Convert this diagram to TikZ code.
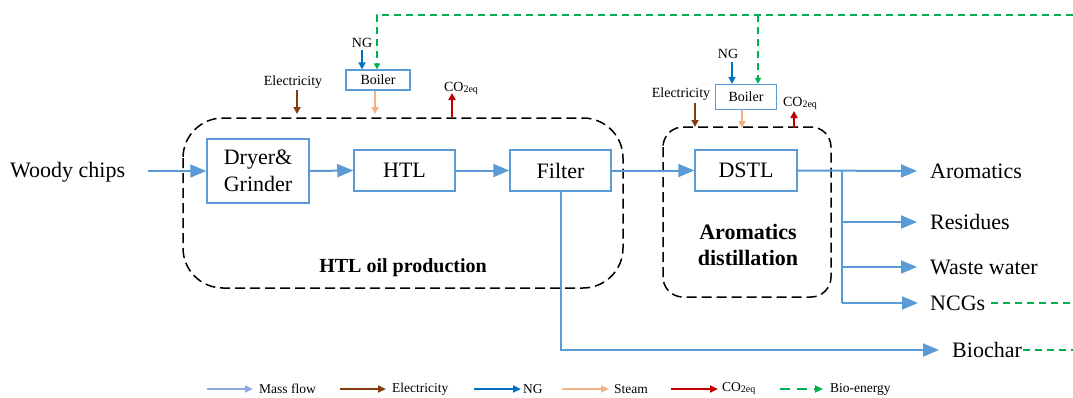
\documentclass[tikz,border=0pt]{standalone}
\usepackage{fontspec}
\setmainfont{Liberation Serif}
\usetikzlibrary{arrows.meta}
\definecolor{flowblue}{HTML}{5B9BD5}
\definecolor{legblue}{HTML}{8FAADC}
\definecolor{elec}{HTML}{843C0C}
\definecolor{ngblue}{HTML}{0070C0}
\definecolor{steam}{HTML}{F4B183}
\definecolor{co2}{HTML}{C00000}
\definecolor{bio}{HTML}{00B050}
\newcommand{\coeq}{CO{\fontsize{10}{10}\selectfont\raisebox{-1pt}{2eq}}}
\begin{document}
\begin{tikzpicture}[x=1pt,y=-1pt,
 proc/.style={draw=flowblue, line width=1.5pt, minimum width=101pt, minimum height=41pt, font=\fontsize{22}{27}\selectfont, inner sep=0pt},
 flow/.style={draw=flowblue, line width=2pt, -{Triangle[length=16pt,width=13pt]}},
 flowline/.style={draw=flowblue, line width=2pt},
 util/.style={line width=2.5pt, -{Triangle[length=7pt,width=7pt]}},
 legarrow/.style={line width=2.5pt, -{Triangle[length=8pt,width=7pt]}},
 biod/.style={draw=bio, line width=1.8pt, dash pattern=on 7pt off 5pt},
 group/.style={draw=black, line width=1.5pt, dash pattern=on 10pt off 5pt},
 big/.style={font=\fontsize{22}{24}\selectfont, inner sep=0pt},
 small/.style={font=\fontsize{14}{16}\selectfont, inner sep=0pt},
 legtext/.style={font=\fontsize{13.5}{15}\selectfont, inner sep=0pt, anchor=west},
 boilerbox/.style={draw=flowblue, line width=1.2pt, font=\fontsize{14}{16}\selectfont, inner sep=0pt},
]
\useasboundingbox (0,0) rectangle (1073,397);

% group boxes
\draw[group, rounded corners=40pt] (183,118) rectangle (623,288);
\node[font=\bfseries\fontsize{20}{22}\selectfont, inner sep=0pt] (g1label) at (403,268) {HTL oil production};
\draw[group, rounded corners=20pt] (663,127) rectangle (831,297);
\node[align=center, font=\bfseries\fontsize{22}{26}\selectfont, inner sep=0pt] (g2label) at (748,245) {Aromatics\\distillation};

% process boxes
\node[proc, minimum width=102pt, minimum height=64pt, align=center] (dryer) at (258,171) {Dryer\&\\Grinder};
\node[proc] (htl) at (404.5,170.5) {HTL};
\node[proc] (filter) at (560.5,170.5) {Filter};
\node[proc, minimum width=102pt] (dstl) at (746,170.5) {DSTL};

% input
\node[big, anchor=west] (woody) at (10,172) {Woody chips};
\coordinate (win) at (148,171);
\draw[flow] (win) -- (dryer.west);
\draw[flow] (dryer.east) -- (htl.west);
\draw[flow] (htl.east) -- (filter.west);
\draw[flow] (filter.east) -- (dstl.west);

% outputs
\node[big, anchor=west] (arom) at (930,171) {Aromatics};
\node[big, anchor=west] (resid) at (930,222) {Residues};
\node[big, anchor=west] (waste) at (930,267) {Waste water};
\node[big, anchor=west] (ncg) at (930,303) {NCGs};
\node[big, anchor=west] (biochar) at (952,350) {Biochar};
\coordinate (br) at (842,171);
\coordinate (brb) at (842,303);
\draw[flow] (dstl.east) -- ([xshift=-13pt]arom.west);
\draw[flowline] (br) -- (brb);
\draw[flow] (br |- resid.west) -- ([xshift=-13pt]resid.west);
\draw[flow] (br |- waste.west) -- ([xshift=-13pt]waste.west);
\draw[flow] (brb) -- ([xshift=-12pt]ncg.west);
\coordinate (bc) at (560.5,350);
\draw[flow] (filter.south) -- (bc) -- ([xshift=-13pt]biochar.west);
\coordinate (ncgend) at (1073,303);
\coordinate (bcend) at (1073,350);
\draw[biod] ([xshift=6pt]ncg.east) -- (ncgend);
\draw[biod] ([xshift=1pt]biochar.east) -- (bcend);

% boiler 1
\node[boilerbox, minimum width=64pt, minimum height=20pt] (boiler1) at (378,80) {Boiler};
\node[small] (ng1) at (362,43) {NG};
\coordinate (ng1a) at (362,50);
\draw[util, ngblue] (ng1a) -- (ng1a |- boiler1.north);
\node[small] (elec1) at (293,82) {Electricity};
\coordinate (e1a) at (297,90);
\coordinate (e1b) at (297,114);
\draw[util, elec] (e1a) -- (e1b);
\coordinate (s1) at (375,114);
\draw[util, steam] (s1 |- boiler1.south) -- (s1);
\node[small] (co21) at (461,88) {\coeq};
\coordinate (c1a) at (452,93);
\coordinate (c1b) at (452,117);
\draw[util, co2] (c1b) -- (c1a);

% boiler 2
\node[boilerbox, minimum width=61pt, minimum height=25pt] (boiler2) at (746,97) {Boiler};
\node[small] (ng2) at (728,54) {NG};
\coordinate (ng2a) at (732,62);
\draw[util, ngblue] (ng2a) -- (ng2a |- boiler2.north);
\node[small] (elec2) at (681,94) {Electricity};
\coordinate (e2a) at (695,103);
\coordinate (e2b) at (695,127);
\draw[util, elec] (e2a) -- (e2b);
\coordinate (s2) at (742,128);
\draw[util, steam] (s2 |- boiler2.south) -- (s2);
\node[small] (co22) at (800,103) {\coeq};
\coordinate (c2a) at (794,111);
\coordinate (c2b) at (794,128);
\draw[util, co2] (c2b) -- (c2a);

% bio-energy lines
\coordinate (topR) at (1073,15);
\coordinate (topL) at (377,15);
\coordinate (top2) at (758,15);
\draw[biod, -{Triangle[length=6pt,width=6pt]}] (topR) -- (topL) -- (topL |- boiler1.north);
\draw[biod, -{Triangle[length=6pt,width=6pt]}] (top2) -- (top2 |- boiler2.north);

% legend
\node[legtext] (lmass) at (259,389) {Mass flow};
\draw[legarrow, legblue] ([xshift=-52pt]lmass.west) -- ([xshift=-6pt]lmass.west);
\node[legtext] (lelec) at (392,389) {Electricity};
\draw[legarrow, elec] ([xshift=-52pt]lelec.west) -- ([xshift=-6pt]lelec.west);
\node[legtext] (lng) at (523,389) {NG};
\draw[legarrow, ngblue] ([xshift=-49pt]lng.west) -- ([xshift=-2pt]lng.west);
\node[legtext] (lsteam) at (614,389) {Steam};
\draw[legarrow, steam] ([xshift=-52pt]lsteam.west) -- ([xshift=-5pt]lsteam.west);
\node[legtext] (lco2) at (722,389) {\coeq};
\draw[legarrow, co2] ([xshift=-51pt]lco2.west) -- ([xshift=-4pt]lco2.west);
\node[legtext] (lbio) at (830,389) {Bio-energy};
\draw[legarrow, bio, dash pattern=on 10pt off 7pt] ([xshift=-50pt]lbio.west) -- ([xshift=-7pt]lbio.west);
\end{tikzpicture}
\end{document}
